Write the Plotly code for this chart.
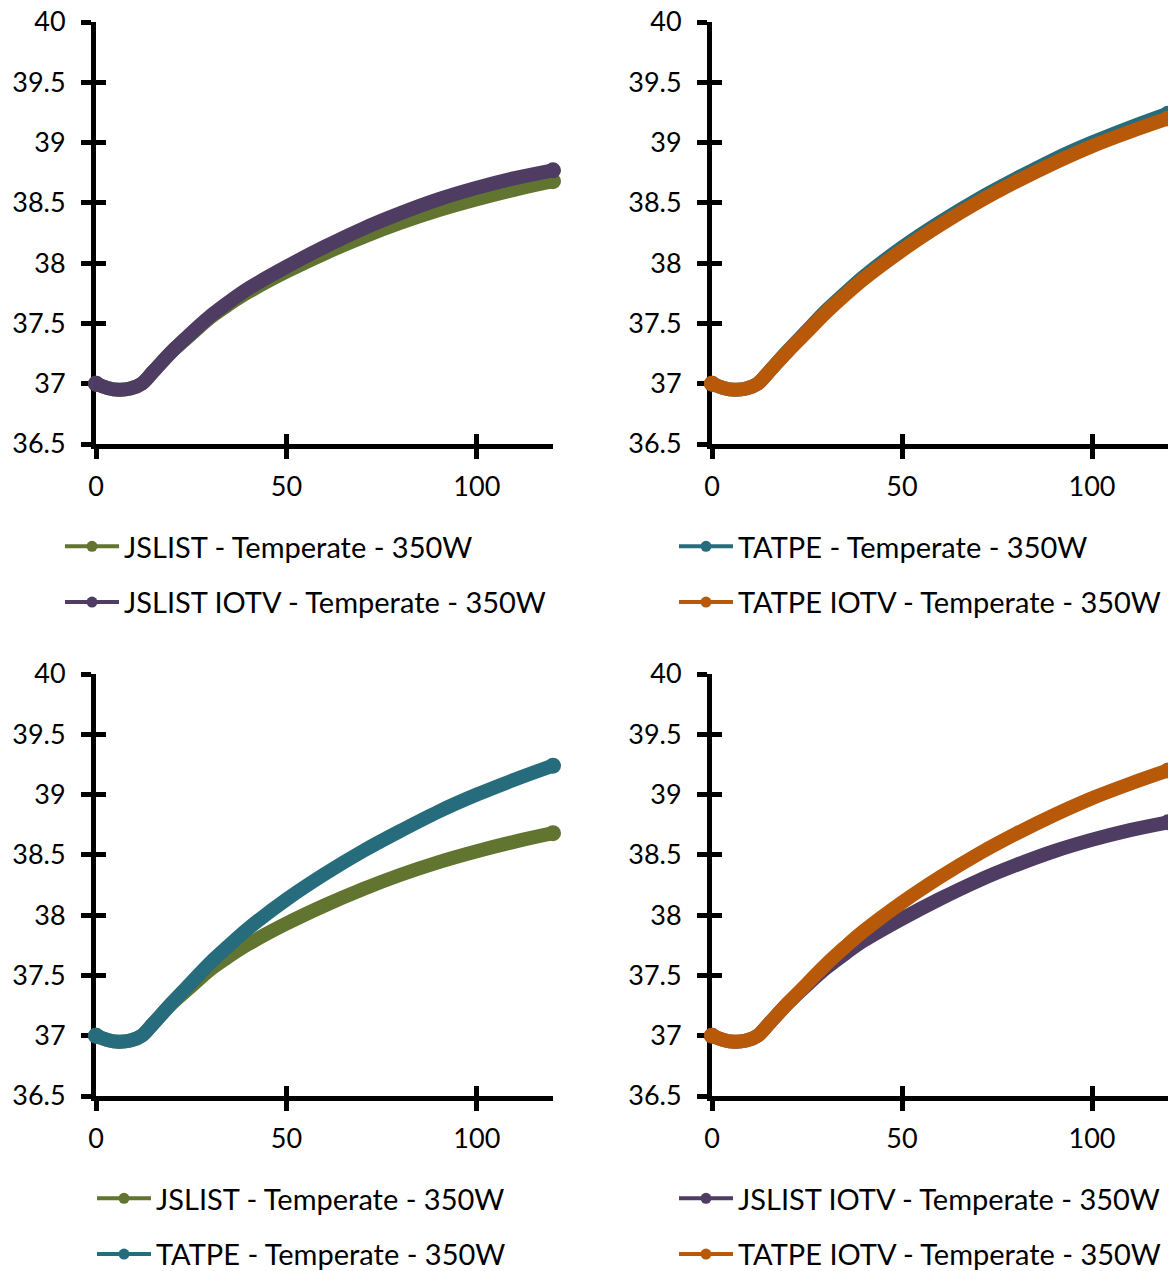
import plotly.graph_objects as go

# ---------------- data ----------------
time_min = [0, 3, 6, 9, 12, 15, 20, 25, 30, 35, 40, 50, 60, 70, 80, 90, 100, 110, 120]

jslist = [37.00, 36.965, 36.95, 36.96, 37.00, 37.10, 37.27, 37.41, 37.55, 37.66, 37.76,
          37.93, 38.08, 38.215, 38.335, 38.44, 38.53, 38.61, 38.68]
jslist_iotv = [37.00, 36.965, 36.95, 36.96, 37.00, 37.10, 37.27, 37.42, 37.56, 37.68, 37.79,
               37.97, 38.135, 38.285, 38.415, 38.53, 38.625, 38.705, 38.77]
tatpe = [37.00, 36.965, 36.95, 36.96, 37.00, 37.10, 37.275, 37.44, 37.605, 37.75, 37.89,
         38.13, 38.34, 38.53, 38.70, 38.86, 39.00, 39.125, 39.24]
tatpe_iotv = [37.00, 36.965, 36.95, 36.96, 37.00, 37.10, 37.27, 37.43, 37.59, 37.735, 37.87,
              38.105, 38.315, 38.505, 38.675, 38.83, 38.97, 39.09, 39.20]

series_names = {
    "jslist": "JSLIST - Temperate - 350W",
    "jslist_iotv": "JSLIST IOTV - Temperate - 350W",
    "tatpe": "TATPE - Temperate - 350W",
    "tatpe_iotv": "TATPE IOTV - Temperate - 350W",
}
series_values = {
    "jslist": jslist,
    "jslist_iotv": jslist_iotv,
    "tatpe": tatpe,
    "tatpe_iotv": tatpe_iotv,
}
colors = {
    "jslist": "#617530",
    "jslist_iotv": "#4E3C63",
    "tatpe": "#276C7C",
    "tatpe_iotv": "#B75908",
}

x_ticks = [0, 50, 100]
y_ticks = [36.5, 37, 37.5, 38, 38.5, 39, 39.5, 40]
y_tick_text = ["36.5", "37", "37.5", "38", "38.5", "39", "39.5", "40"]

# panels: series in draw order
panels = [
    ["jslist", "jslist_iotv"],
    ["tatpe", "tatpe_iotv"],
    ["jslist", "tatpe"],
    ["jslist_iotv", "tatpe_iotv"],
]

# ---------------- layout geometry ----------------
W, H = 1168, 1271
x_domains = [(96 / W, 553 / W), (712 / W, 1.0), (96 / W, 553 / W), (712 / W, 1.0)]
top_dom = (1 - 444 / H, 1 - 22 / H)
bot_dom = (1 - 1096 / H, 1 - 674 / H)
y_domains = [top_dom, top_dom, bot_dom, bot_dom]
legend_pos = [(60 / W, 1 - 521 / H), (674 / W, 1 - 521 / H),
              (92 / W, 1 - 1173 / H), (674 / W, 1 - 1173 / H)]

FONT = "Lato, Carlito, Calibri, sans-serif"
LINE_W = 14
END_MARK = 16

fig = go.Figure()
layout = dict(
    width=W, height=H,
    margin=dict(l=0, r=0, t=0, b=0, autoexpand=False),
    paper_bgcolor="white", plot_bgcolor="white",
    font=dict(family=FONT, size=27, color="black"),
)

for i, keys in enumerate(panels):
    n = i + 1
    ov = i + 5
    xa = "x" if n == 1 else f"x{n}"
    ya = "y" if n == 1 else f"y{n}"
    leg = "legend" if n == 1 else f"legend{n}"

    for k in keys:
        vals = series_values[k]
        fig.add_trace(go.Scatter(
            x=time_min, y=vals, mode="lines", xaxis=xa, yaxis=ya,
            line=dict(color=colors[k], width=LINE_W, shape="spline", smoothing=1),
            showlegend=False, hoverinfo="skip",
        ))
        fig.add_trace(go.Scatter(
            x=[time_min[0], time_min[-1]], y=[vals[0], vals[-1]], mode="markers",
            xaxis=xa, yaxis=ya, cliponaxis=False,
            marker=dict(color=colors[k], size=END_MARK, line=dict(width=0)),
            showlegend=False, hoverinfo="skip",
        ))
    for k in keys:
        fig.add_trace(go.Scatter(
            x=[None], y=[None], mode="lines+markers", xaxis=xa, yaxis=ya,
            name=series_names[k], legend=leg, legendgroup=f"{n}{k}",
            line=dict(color=colors[k], width=4),
            marker=dict(color=colors[k], size=11),
        ))
    fig.add_trace(go.Scatter(x=[None], y=[None], xaxis=f"x{ov}", yaxis=f"y{ov}",
                             showlegend=False, hoverinfo="skip"))

    common = dict(showgrid=False, zeroline=False, tickcolor="black",
                  tickwidth=5, ticklen=10, layer="below traces", automargin=False)
    layout[f"xaxis{'' if n == 1 else n}"] = dict(
        domain=list(x_domains[i]), anchor=ya, range=[0, 120],
        tickvals=x_ticks, ticks="outside", showline=True, linecolor="black",
        linewidth=5, ticklabelstandoff=5, tickfont=dict(size=27), **common)
    layout[f"yaxis{'' if n == 1 else n}"] = dict(
        domain=list(y_domains[i]), anchor=xa, range=[36.5, 40],
        tickvals=y_ticks, ticktext=y_tick_text, ticks="outside", showline=True,
        linecolor="black", linewidth=5, ticklabelstandoff=10,
        tickfont=dict(size=27), **common)
    layout[f"xaxis{ov}"] = dict(
        overlaying=xa, anchor=f"y{ov}", range=[0, 120], tickvals=x_ticks,
        ticks="inside", showline=False, showticklabels=False, **common)
    layout[f"yaxis{ov}"] = dict(
        overlaying=ya, anchor=f"x{ov}", range=[36.5, 40], tickvals=y_ticks,
        ticks="inside", showline=False, showticklabels=False, **common)

    lx, ly = legend_pos[i]
    layout[leg] = dict(
        x=lx, y=ly, xanchor="left", yanchor="top", orientation="v",
        bgcolor="rgba(0,0,0,0)", font=dict(family=FONT, size=29, color="black"),
        tracegroupgap=15, itemwidth=54, itemclick=False, itemdoubleclick=False,
    )

fig.update_layout(**layout)
fig.write_html("out.html", config={"displayModeBar": False})
